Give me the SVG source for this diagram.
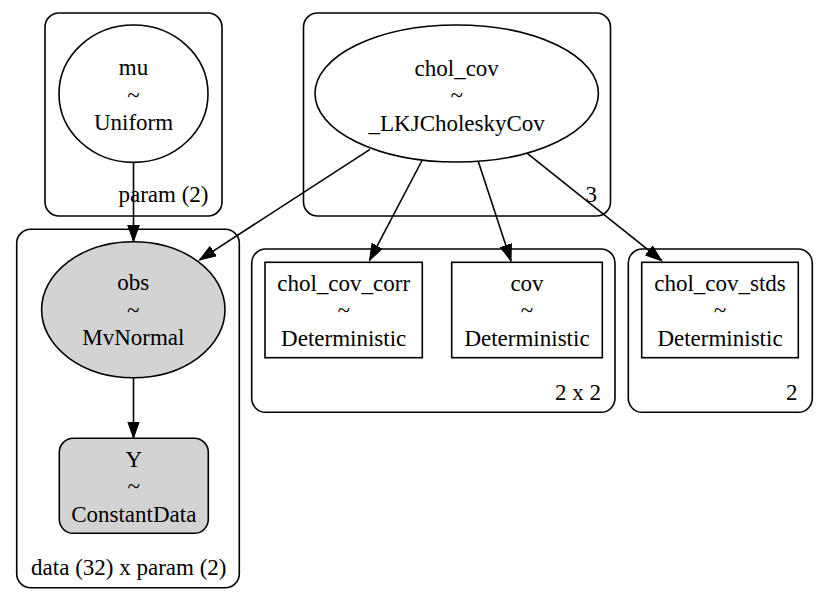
<svg xmlns="http://www.w3.org/2000/svg" width="829" height="597" viewBox="0 0 829 597">
<style>
text{font-family:"Liberation Serif","Times New Roman",serif;font-size:23px;fill:#000;text-anchor:middle}
text.cl{text-anchor:end}
.cluster{fill:none;stroke:#000;stroke-width:1.6}
.node{fill:#fff;stroke:#000;stroke-width:1.6}
.obsd{fill:#d3d3d3;stroke:#000;stroke-width:1.6}
.edge{fill:none;stroke:#000;stroke-width:1.6;marker-end:url(#arr)}
</style>
<defs>
<marker id="arr" markerUnits="userSpaceOnUse" markerWidth="18" markerHeight="13" refX="16.5" refY="6" orient="auto">
<path d="M0,0.2 L16.5,6 L0,11.8 Z" fill="#000" stroke="#000" stroke-width="1"/>
</marker>
</defs>
<rect width="829" height="597" fill="#fff"/>
<g id="clusters">
<g id="cluster_param"><rect class="cluster" x="45" y="13" width="177" height="203" rx="14"/><text class="cl" x="208.5" y="201.5">param (2)</text></g>
<g id="cluster_3"><rect class="cluster" x="303.5" y="13" width="307" height="203" rx="14"/><text class="cl" x="597" y="201.5">3</text></g>
<g id="cluster_data"><rect class="cluster" x="16.7" y="229.3" width="222.6" height="358.4" rx="14"/><text class="cl" x="226.5" y="575">data (32) x param (2)</text></g>
<g id="cluster_2x2"><rect class="cluster" x="251.7" y="249" width="363.3" height="163.3" rx="14"/><text class="cl" x="601" y="399.5">2 x 2</text></g>
<g id="cluster_2"><rect class="cluster" x="628.3" y="249" width="184" height="163.3" rx="14"/><text class="cl" x="797.5" y="399.5">2</text></g>
</g>
<g id="edges">
<path class="edge" d="M133.5,162.7 L133.5,241.5"/>
<path class="edge" d="M370,149.3 L199.5,260"/>
<path class="edge" d="M422.3,160 L369.5,260.5"/>
<path class="edge" d="M478.3,161.5 L511,261"/>
<path class="edge" d="M527.3,153.3 L661.7,260.7"/>
<path class="edge" d="M133.5,377.7 L133.5,438"/>
</g>
<g id="node_mu"><ellipse class="node" cx="133.5" cy="93.7" rx="74.5" ry="68.7"/><text x="133.5" y="75">mu</text><text x="133.5" y="102.5">~</text><text x="133.5" y="130">Uniform</text></g>
<g id="node_chol_cov"><ellipse class="node" cx="456.7" cy="93.5" rx="141.7" ry="68.5"/><text x="456.7" y="75.5">chol_cov</text><text x="456.7" y="103">~</text><text x="456.7" y="130.8">_LKJCholeskyCov</text></g>
<g id="node_obs"><ellipse class="obsd" cx="133.3" cy="309.7" rx="91.7" ry="68"/><text x="133.3" y="290">obs</text><text x="133.3" y="317.5">~</text><text x="133.3" y="345">MvNormal</text></g>
<g id="node_Y"><rect class="obsd" x="59.3" y="438.3" width="149" height="95" rx="14"/><text x="133.8" y="466.5">Y</text><text x="133.8" y="494">~</text><text x="133.8" y="521.5">ConstantData</text></g>
<g id="node_chol_cov_corr"><rect class="node" x="265" y="262.3" width="157.3" height="95.4"/><text x="343.7" y="290.7">chol_cov_corr</text><text x="343.7" y="318">~</text><text x="343.7" y="345.5">Deterministic</text></g>
<g id="node_cov"><rect class="node" x="451.7" y="262.3" width="150.6" height="95.4"/><text x="527" y="290.7">cov</text><text x="527" y="318">~</text><text x="527" y="345.5">Deterministic</text></g>
<g id="node_chol_cov_stds"><rect class="node" x="641.7" y="262.3" width="156.6" height="95.4"/><text x="720" y="290.7">chol_cov_stds</text><text x="720" y="318">~</text><text x="720" y="345.5">Deterministic</text></g>
</svg>
